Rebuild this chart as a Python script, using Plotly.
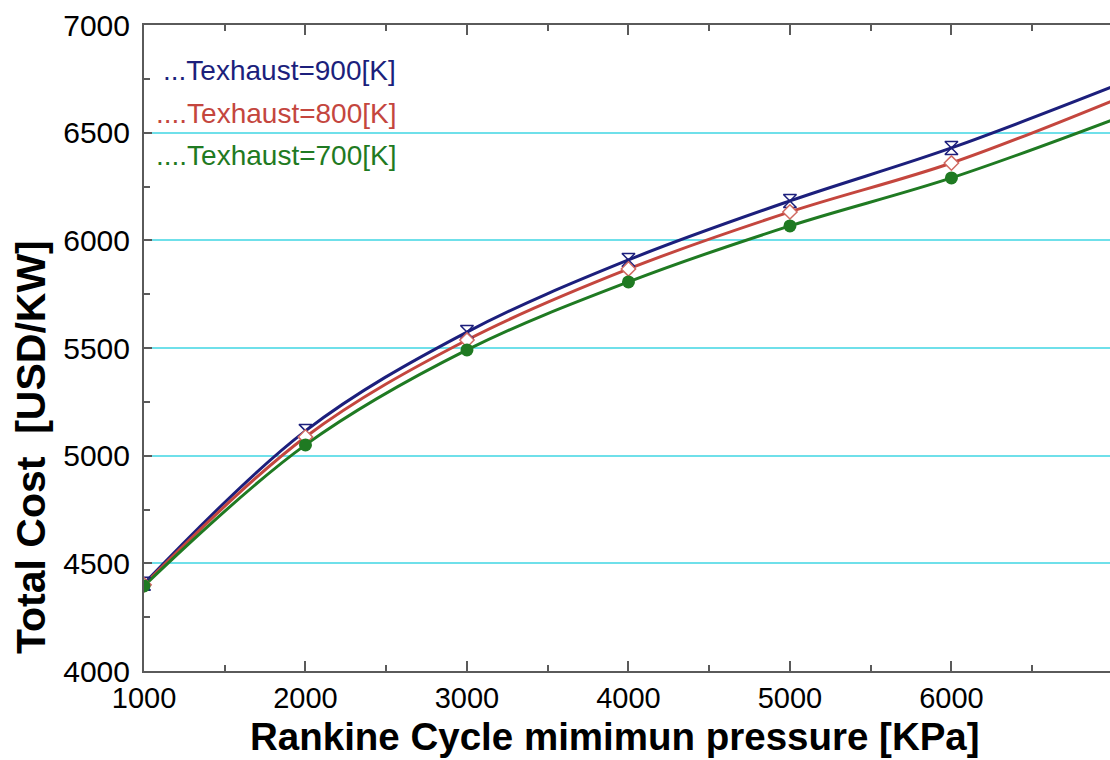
import plotly.graph_objects as go

# Rankine cycle minimum pressure [kPa]
pressure = [1000, 2000, 3000, 4000, 5000, 6000, 7000]

# Total cost [USD/kW] for each exhaust temperature
cost_900 = [4405, 5115, 5574, 5909, 6183, 6429, 6714]
cost_800 = [4400, 5087, 5537, 5867, 6132, 6359, 6649]
cost_700 = [4395, 5050, 5491, 5807, 6067, 6290, 6560]

labels = ["...Texhaust=900[K]", "....Texhaust=800[K]", "....Texhaust=700[K]"]

NAVY = "#1c1f7c"
RED = "#c4463e"
GREEN = "#1f7a22"
FONT = "Liberation Sans, Arial, sans-serif"

W, H = 1110, 760
L, R, T, B = 144, 0, 25, 89
PW, PH = W - L - R, H - T - B


def to_paper(px, py):
    """Convert figure pixel position to paper coordinates."""
    return (px - L) / PW, 1 - (py - T) / PH


fig = go.Figure()

series = [
    (cost_900, NAVY, dict(symbol="hourglass-open", size=13, color=NAVY, line=dict(width=1.5, color=NAVY))),
    (cost_800, RED, dict(symbol="diamond", size=11, color="white", line=dict(width=1.5, color="#d06a62"))),
    (cost_700, GREEN, dict(symbol="circle", size=13, color=GREEN, line=dict(width=0))),
]

for values, color, marker in series:
    fig.add_trace(go.Scatter(
        x=pressure, y=values, mode="lines",
        line=dict(color=color, width=3, shape="spline", smoothing=1.0),
        showlegend=False, hoverinfo="skip",
    ))
for values, color, marker in series:
    fig.add_trace(go.Scatter(
        x=pressure[:-1], y=values[:-1], mode="markers",
        marker=marker, showlegend=False,
    ))

# series labels drawn as text in the upper-left corner
label_pos = [(160, 70), (153, 113), (153, 155)]
for text, color, (px, py) in zip(labels, [NAVY, RED, GREEN], label_pos):
    ax, ay = to_paper(px, py)
    fig.add_annotation(
        x=ax, y=ay, xref="paper", yref="paper",
        xanchor="left", yanchor="middle", showarrow=False,
        text=text, font=dict(family=FONT, size=28, color=color),
        bgcolor="white", borderpad=2,
    )

# axis titles
tx, ty = to_paper(615, 736)
fig.add_annotation(
    x=tx, y=ty, xref="paper", yref="paper", xanchor="center", yanchor="middle",
    showarrow=False, text="<b>Rankine Cycle mimimun pressure [KPa]</b>",
    font=dict(family=FONT, size=38.5, color="black"),
)
tx, ty = to_paper(31, 447)
fig.add_annotation(
    x=tx, y=ty, xref="paper", yref="paper", xanchor="center", yanchor="middle",
    showarrow=False, textangle=-90, text="<b>Total Cost  [USD/KW]</b>",
    font=dict(family=FONT, size=41, color="black"),
)

axis_line = "#5a5a5a"

fig.update_xaxes(
    range=[1000, 6982], dtick=1000, tick0=1000,
    showline=True, linecolor=axis_line, linewidth=2, mirror="ticks",
    ticks="inside", ticklen=10, tickwidth=1.5, tickcolor=axis_line,
    minor=dict(ticks="inside", dtick=500, ticklen=6, tickwidth=1.5, tickcolor=axis_line, showgrid=False),
    showgrid=False, zeroline=False,
    tickfont=dict(family=FONT, size=29, color="black"),
)
fig.update_yaxes(
    range=[4000, 7000], dtick=500, tick0=4000,
    showline=True, linecolor=axis_line, linewidth=2,
    ticks="inside", ticklen=8, tickwidth=1.5, tickcolor=axis_line,
    minor=dict(ticks="inside", dtick=250, ticklen=6, tickwidth=1.5, tickcolor=axis_line, showgrid=False),
    showgrid=True, gridcolor="#6fe0ea", gridwidth=1.5,
    zeroline=False, ticklabelstandoff=6,
    tickfont=dict(family=FONT, size=30, color="black"),
)

fig.update_layout(
    width=W, height=H,
    margin=dict(l=L, r=R, t=T, b=B),
    paper_bgcolor="white", plot_bgcolor="white",
)

fig.write_html("out.html")
